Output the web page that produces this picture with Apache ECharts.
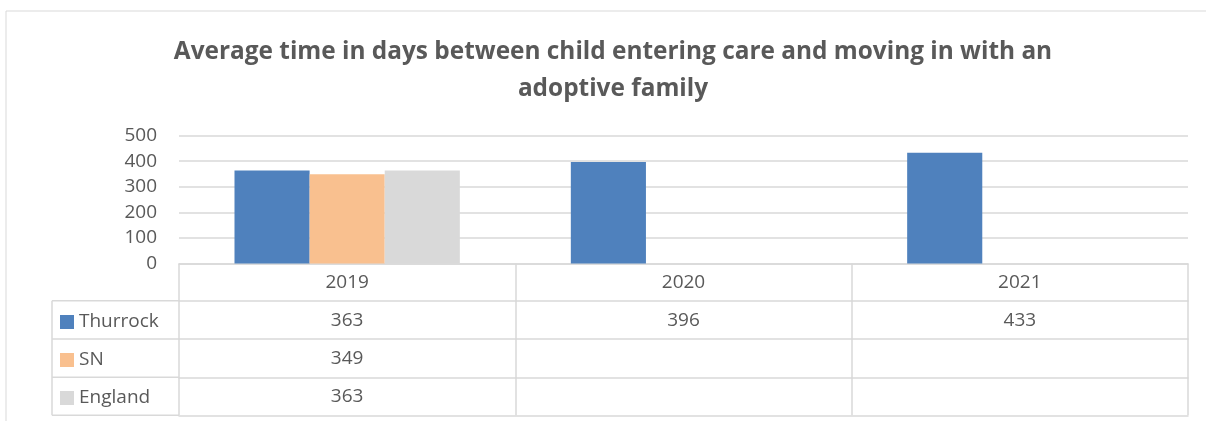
<!DOCTYPE html>
<html>
<head>
<meta charset="utf-8">
<script src="https://cdn.jsdelivr.net/npm/echarts@6/dist/echarts.min.js"></script>
<style>
html,body{margin:0;padding:0;background:#fff;}
#c{width:1206px;height:421px;}
</style>
</head>
<body>
<div id="c"></div>
<script>
var titleText = 'Average time in days between child entering care and moving in with an\nadoptive family';
var categories = ['2019', '2020', '2021'];
var seriesNames = ['Thurrock', 'SN', 'England'];
var thurrock = [363, 396, 433];
var sn = [349, null, null];
var england = [363, null, null];
var yTicks = [0, 100, 200, 300, 400, 500];

var colors = ['#4f81bd', '#f9c08f', '#d9d9d9'];
var seriesData = [thurrock, sn, england];
var textColor = '#595959';
var lineColor = '#d9d9d9';
var FONT = '"Open Sans", "Liberation Sans", sans-serif';

var gridLeft = 179, gridRight = 1188, gridTop = 135.5, gridBottom = 263.5;
var rowLines = [300.7, 339, 377.3, 415.3];

var chart = echarts.init(document.getElementById('c'), null, {renderer: 'canvas'});

var xAxes = [{
  type: 'category', data: categories, position: 'bottom', gridIndex: 0,
  axisLine: {show: true, lineStyle: {color: lineColor, width: 1.5}},
  axisTick: {show: true, length: rowLines[3] - gridBottom, lineStyle: {color: lineColor, width: 1.5}},
  axisLabel: {color: textColor, fontSize: 19, fontFamily: FONT, margin: 10},
  splitLine: {show: false}
}];
seriesData.forEach(function (arr, i) {
  xAxes.push({
    type: 'category', data: categories, position: 'bottom', gridIndex: 0,
    offset: rowLines[i] - gridBottom,
    axisLine: {show: true, lineStyle: {color: lineColor, width: 1.5}},
    axisTick: {show: false},
    axisLabel: {color: textColor, fontSize: 19, fontFamily: FONT, margin: 10,
      formatter: function (v, idx) { return arr[idx] == null ? '' : String(arr[idx]); }},
    splitLine: {show: false}
  });
});
xAxes.push({
  type: 'category', data: categories, position: 'bottom', gridIndex: 0,
  offset: rowLines[3] - gridBottom,
  axisLine: {show: true, lineStyle: {color: lineColor, width: 1.5}},
  axisTick: {show: false}, axisLabel: {show: false}, splitLine: {show: false}
});

var graphics = [
  {type: 'polyline', silent: true, shape: {points: [[6, 421], [6, 11], [1206, 11]]}, style: {stroke: lineColor, lineWidth: 1, fill: null}},
  {type: 'line', silent: true, shape: {x1: 52, y1: rowLines[0], x2: 52, y2: rowLines[3]}, style: {stroke: lineColor, lineWidth: 1.5}}
];
rowLines.forEach(function (y) {
  graphics.push({type: 'line', silent: true, shape: {x1: 52, y1: y, x2: gridLeft, y2: y}, style: {stroke: lineColor, lineWidth: 1.5}});
});

chart.setOption({
  animation: false,
  color: colors,
  title: {
    text: titleText, left: 608, textAlign: 'center', top: 29,
    textStyle: {color: textColor, fontSize: 24.4, fontWeight: 'bold', fontFamily: FONT, lineHeight: 37}
  },
  legend: {
    data: seriesNames, orient: 'vertical', left: 60, top: 310, padding: 0,
    itemWidth: 14, itemHeight: 14, itemGap: 14, icon: 'rect',
    textStyle: {color: textColor, fontSize: 19, fontFamily: FONT, lineHeight: 24},
    selectedMode: false
  },
  grid: {left: gridLeft, right: 1206 - gridRight, top: gridTop, bottom: 421 - gridBottom, containLabel: false},
  xAxis: xAxes,
  yAxis: {
    type: 'value', min: yTicks[0], max: yTicks[yTicks.length - 1], interval: 100,
    axisLine: {show: false}, axisTick: {show: false},
    axisLabel: {color: textColor, fontSize: 19, fontFamily: FONT, margin: 22},
    splitLine: {lineStyle: {color: lineColor, width: 1.5}}
  },
  series: seriesNames.map(function (n, i) {
    return {
      name: n, type: 'bar', data: seriesData[i], xAxisIndex: 0,
      barGap: '0%', barCategoryGap: '33%',
      itemStyle: {color: colors[i]}
    };
  }),
  graphic: graphics
});
</script>
</body>
</html>
